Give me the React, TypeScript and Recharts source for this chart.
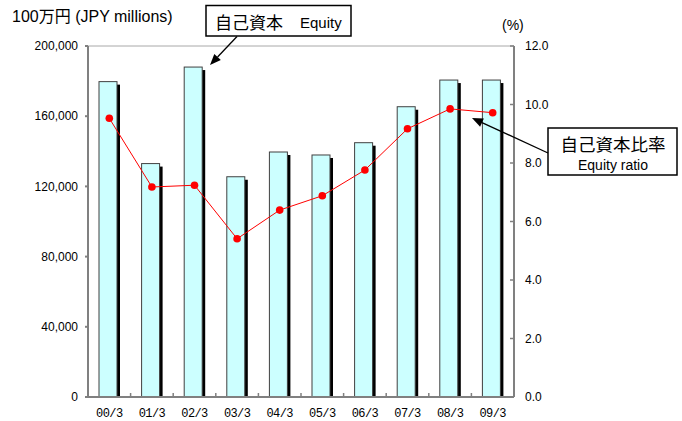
import React from 'react';
import { ComposedChart, Bar, Line, XAxis, YAxis, ReferenceLine } from 'recharts';

const categories = ['00/3', '01/3', '02/3', '03/3', '04/3', '05/3', '06/3', '07/3', '08/3', '09/3'];
const equity = [179700, 133000, 188000, 125500, 139600, 137900, 144900, 165400, 180600, 180600];
const equityRatio = [9.53, 7.18, 7.24, 5.41, 6.39, 6.88, 7.76, 9.17, 9.85, 9.72];
const leftTicks = [0, 40000, 80000, 120000, 160000, 200000];
const rightTicks = [0, 2, 4, 6, 8, 10, 12];

const data = categories.map((c, i) => ({ cat: c, equity: equity[i], ratio: equityRatio[i] }));

const FONT = '"Liberation Sans", Arial, "Noto Sans CJK JP", sans-serif';
const AXIS = '#808080';

const ShadowBar = (props: any) => {
  const { x, y, width, height } = props;
  if (height == null || height <= 0) return null;
  const w = width - 3;
  return (
    <g>
      <rect x={x + 3} y={y + 3} width={w} height={height - 2} fill="#000" />
      <rect x={x} y={y} width={w} height={height} fill="#CCFFFF" stroke="#404040" strokeWidth={1} />
    </g>
  );
};

const XTick = (props: any) => {
  const { x, y, payload, index, width, visibleTicksCount } = props;
  const bw = width / visibleTicksCount;
  return (
    <g>
      {index < visibleTicksCount - 1 && (
        <line x1={x + bw / 2} x2={x + bw / 2} y1={y} y2={y - 4} stroke={AXIS} strokeWidth={1.5} />
      )}
      <text x={x} y={y + 20} textAnchor="middle" fontSize={12} fontFamily='"Liberation Mono", "DejaVu Sans Mono", monospace' fill="#000" letterSpacing={-0.6}>
        {payload.value}
      </text>
    </g>
  );
};

const RightTick = (props: any) => {
  const { x, y, payload } = props;
  return (
    <g>
      <line x1={x - 11} x2={x - 15} y1={y} y2={y} stroke={AXIS} strokeWidth={1.5} />
      <text x={x} y={y} dy={4} textAnchor="start" fontSize={12} fontFamily={FONT} fill="#000">
        {Number(payload.value).toFixed(1)}
      </text>
    </g>
  );
};

const fmtLeft = (v: number) => v.toLocaleString('en-US');

function arrowHead(x1: number, y1: number, x2: number, y2: number, len = 11, half = 4.5) {
  const dx = x2 - x1;
  const dy = y2 - y1;
  const d = Math.hypot(dx, dy);
  const ux = dx / d;
  const uy = dy / d;
  const bx = x2 - ux * len;
  const by = y2 - uy * len;
  const px = -uy;
  const py = ux;
  return {
    bx,
    by,
    pts: `${x2},${y2} ${bx + px * half},${by + py * half} ${bx - px * half},${by - py * half}`,
  };
}

const Arrow = ({ x1, y1, x2, y2 }: { x1: number; y1: number; x2: number; y2: number }) => {
  const h = arrowHead(x1, y1, x2, y2);
  return (
    <g>
      <line x1={x1} y1={y1} x2={h.bx} y2={h.by} stroke="#000" strokeWidth={1.3} />
      <polygon points={h.pts} fill="#000" />
    </g>
  );
};

export default function App() {
  return (
    <div style={{ position: 'absolute', left: 0, top: 0, width: 682, height: 421, background: '#fff' }}>
      <ComposedChart
        width={682}
        height={421}
        data={data}
        margin={{ top: 46, right: 128, bottom: 0, left: 0 }}
      >
        <XAxis
          dataKey="cat"
          height={24}
          stroke={AXIS}
          strokeWidth={2}
          tickLine={false}
          tickSize={0}
          tickMargin={0}
          tick={<XTick />}
          interval={0}
        />
        <YAxis
          yAxisId="left"
          width={88}
          domain={[0, 200000]}
          ticks={leftTicks}
          tickFormatter={fmtLeft}
          stroke={AXIS}
          strokeWidth={2}
          tickSize={3}
          tickMargin={7}
          tick={{ fill: '#000', fontSize: 12, fontFamily: FONT }}
          interval={0}
        />
        <YAxis
          yAxisId="right"
          orientation="right"
          width={40}
          domain={[0, 12]}
          ticks={rightTicks}
          stroke={AXIS}
          strokeWidth={2}
          tickLine={false}
          tickSize={0}
          tickMargin={11}
          tick={<RightTick />}
          interval={0}
        />
        <ReferenceLine yAxisId="left" y={200000} stroke="#A8A8A8" strokeWidth={1} />
        <Bar
          yAxisId="left"
          dataKey="equity"
          barSize={21}
          shape={<ShadowBar />}
          isAnimationActive={false}
        />
        <Line
          yAxisId="right"
          type="linear"
          dataKey="ratio"
          stroke="#FF0000"
          strokeWidth={1}
          dot={{ r: 3.8, fill: '#FF0000', stroke: 'none' }}
          activeDot={false}
          isAnimationActive={false}
        />
      </ComposedChart>
      <svg
        width={682}
        height={421}
        style={{ position: 'absolute', left: 0, top: 0, pointerEvents: 'none' }}
      >
        <text x={12} y={22} fontSize={16} fontFamily={FONT} fill="#000">
          100万円 (JPY millions)
        </text>
        <text x={502} y={30} fontSize={14} fontFamily={FONT} fill="#000">
          (%)
        </text>
        <rect x={206} y={5.5} width={145} height={30.5} fill="#fff" stroke="#000" strokeWidth={1.5} />
        <text x={215} y={29} fontSize={17} fontFamily='"Noto Sans CJK JP", sans-serif' fill="#000">
          自己資本
        </text>
        <text x={300} y={28} fontSize={15} fontFamily={FONT} fill="#000">
          Equity
        </text>
        <Arrow x1={237} y1={36.5} x2={210} y2={65} />
        <rect x={548} y={128} width={129} height={47} fill="#fff" stroke="#000" strokeWidth={1.5} />
        <text x={613} y={151} textAnchor="middle" fontSize={17.5} fontFamily='"Noto Sans CJK JP", sans-serif' fill="#000">
          自己資本比率
        </text>
        <text x={613} y={169.5} textAnchor="middle" fontSize={14} fontFamily={FONT} fill="#000">
          Equity ratio
        </text>
        <Arrow x1={548} y1={153} x2={472} y2={118} />
      </svg>
    </div>
  );
}
